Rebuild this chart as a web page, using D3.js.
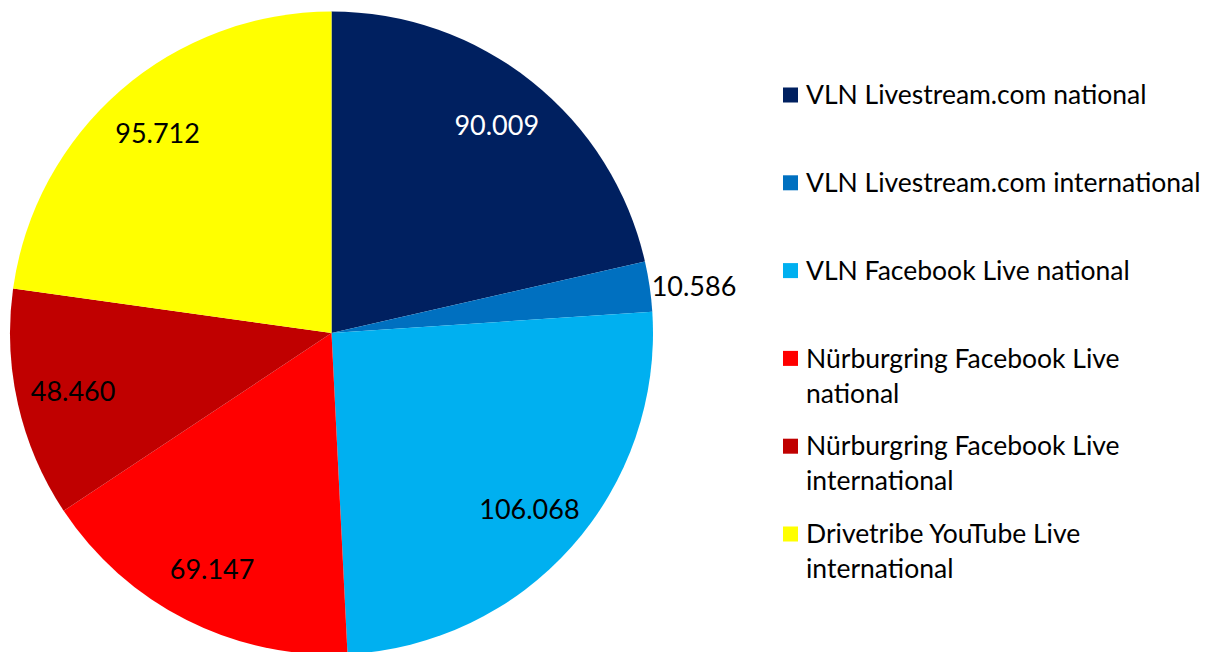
<!DOCTYPE html>
<html>
<head>
<meta charset="utf-8">
<script src="https://cdn.jsdelivr.net/npm/d3@7"></script>
<style>
  body { margin: 0; background: #fff; }
  text { font-family: Lato, "Liberation Sans", sans-serif; }
</style>
</head>
<body>
<svg></svg>
<script>
const width = 1213;
const height = 652;

const categories = [
  'VLN Livestream.com national',
  'VLN Livestream.com international',
  'VLN Facebook Live national',
  'Nürburgring Facebook Live national',
  'Nürburgring Facebook Live international',
  'Drivetribe YouTube Live international'
];
const values = [90009, 10586, 106068, 69147, 48460, 95712];
const valueLabels = ['90.009', '10.586', '106.068', '69.147', '48.460', '95.712'];
const legendLines = [
  ['VLN Livestream.com national'],
  ['VLN Livestream.com international'],
  ['VLN Facebook Live national'],
  ['Nürburgring Facebook Live', 'national'],
  ['Nürburgring Facebook Live', 'international'],
  ['Drivetribe YouTube Live', 'international']
];
const colors = ['#002060', '#0070C0', '#00B0F0', '#FF0000', '#C00000', '#FFFF00'];

const data = categories.map((c, i) => ({name: c, value: values[i], label: valueLabels[i]}));

const cx = 331.5, cy = 333, radius = 321.5;

const svg = d3.select('svg')
  .attr('width', width)
  .attr('height', height);

const color = d3.scaleOrdinal().domain(categories).range(colors);

const pie = d3.pie().value(d => d.value).sort(null);
const arcs = pie(data);

const arc = d3.arc().innerRadius(0).outerRadius(radius);
const labelArc = d3.arc().innerRadius(265).outerRadius(265);
const outerArc = d3.arc().innerRadius(radius).outerRadius(radius);

const g = svg.append('g')
  .attr('transform', `translate(${cx}, ${cy})`);

g.selectAll('path')
  .data(arcs)
  .join('path')
    .attr('d', arc)
    .attr('fill', d => color(d.data.name));

// small slices get their label outside the pie
const isSmall = d => (d.endAngle - d.startAngle) < 0.3;

g.selectAll('.value-label')
  .data(arcs)
  .join('text')
    .attr('class', 'value-label')
    .attr('transform', d => {
      const p = isSmall(d) ? outerArc.centroid(d) : labelArc.centroid(d);
      return `translate(${p[0]}, ${p[1]})`;
    })
    .attr('dx', d => isSmall(d) ? 2 : 0)
    .attr('dy', '0.35em')
    .attr('text-anchor', d => isSmall(d) ? 'start' : 'middle')
    .attr('font-size', 27)
    .attr('fill', d => d.index === 0 ? '#fff' : '#000')
    .text(d => d.data.label);

const legend = svg.append('g')
  .attr('transform', 'translate(783, 95)');

const item = legend.selectAll('g')
  .data(categories)
  .join('g')
    .attr('transform', (d, i) => `translate(0, ${i * 87.8})`);

item.append('rect')
  .attr('x', 0)
  .attr('y', -7.5)
  .attr('width', 15)
  .attr('height', 15)
  .attr('fill', d => color(d));

item.append('text')
  .attr('x', 23)
  .attr('font-size', 26.5)
  .attr('fill', '#000')
  .selectAll('tspan')
  .data((d, i) => legendLines[i])
  .join('tspan')
    .attr('x', 23)
    .attr('y', (d, i) => i * 35)
    .attr('dy', '0.35em')
    .text(d => d);
</script>
</body>
</html>
